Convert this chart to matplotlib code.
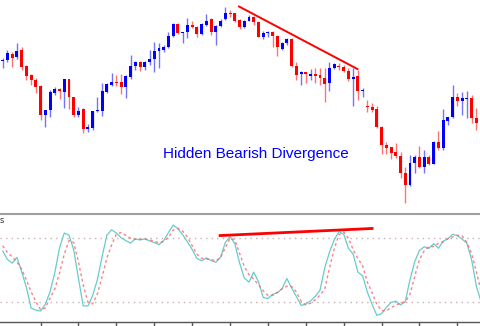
import matplotlib
matplotlib.use("Agg")
import matplotlib.pyplot as plt
import numpy as np

# candle prices (arbitrary units)
opens = [139, 140, 146, 143, 150, 134, 125, 120, 114, 85,
         90, 107, 111, 108, 121, 103, 85, 91, 71, 72,
         89, 89, 108, 115, 118, 118, 113, 123, 134, 138,
         133, 138, 141, 149, 150, 153, 164, 176, 167, 168,
         175, 173, 166, 175, 181, 168, 174, 181, 187, 187,
         180, 173, 179, 183, 178, 163, 167, 168, 164, 151,
         157, 161, 134, 126, 128, 124, 126, 125, 122, 117,
         132, 134, 133, 129, 121, 124, 109, 94, 93, 91,
         73, 55, 53, 48, 44, 27, 15, 37, 43, 33,
         43, 36, 58, 52, 79, 83, 103, 99, 101, 102,
         82, 78]
highs = [142, 150, 148, 157, 153, 135, 126, 122, 115, 90,
         110, 113, 112, 121, 121, 103, 93, 92, 76, 89,
         103, 117, 117, 127, 125, 126, 125, 145, 139, 139,
         139, 150, 158, 157, 155, 168, 177, 177, 168, 182,
         179, 174, 177, 186, 182, 175, 181, 193, 190, 187,
         181, 180, 185, 184, 179, 169, 169, 169, 165, 158,
         162, 162, 138, 129, 128, 131, 132, 132, 132, 138,
         137, 137, 135, 132, 132, 130, 112, 100, 97, 94,
         74, 58, 53, 57, 48, 33, 45, 45, 54, 50,
         45, 59, 69, 91, 83, 115, 107, 108, 109, 105,
         92, 87]
lows = [132, 138, 133, 141, 130, 120, 115, 107, 80, 73,
        83, 105, 101, 92, 91, 83, 83, 67, 68, 70,
        88, 84, 107, 114, 114, 106, 102, 121, 130, 129,
        130, 135, 128, 132, 148, 152, 163, 166, 157, 162,
        172, 163, 165, 174, 165, 155, 173, 180, 183, 178,
        171, 172, 179, 175, 163, 161, 163, 153, 144, 150,
        155, 133, 120, 115, 117, 120, 117, 115, 98, 109,
        131, 130, 128, 119, 94, 100, 103, 88, 88, 72,
        46, 46, 41, 42, 22, -3, 14, 27, 32, 27,
        35, 36, 50, 50, 75, 82, 94, 85, 82, 77,
        70, 76]
closes = [140, 147, 142, 149, 133, 124, 120, 113, 85, 90,
          108, 111, 109, 121, 103, 85, 89, 71, 73, 89,
          90, 109, 116, 118, 117, 113, 124, 134, 138, 133,
          138, 141, 149, 152, 153, 164, 176, 167, 168, 175,
          173, 166, 176, 179, 168, 174, 179, 187, 186, 179,
          173, 179, 183, 178, 163, 167, 168, 164, 153, 157,
          161, 134, 125, 128, 126, 126, 124, 122, 116, 132,
          136, 133, 129, 121, 123, 109, 110, 93, 90, 73,
          55, 52, 47, 44, 27, 15, 37, 43, 33, 43,
          36, 58, 52, 80, 83, 103, 99, 102, 102, 82,
          77, 85]

# stochastic oscillator
stoch_main = [68, 60, 56.5, 62, 48.5, 33.5, 14, 12, 11.2, 17.5,
              29.5, 47.5, 71, 85, 83, 69, 42, 16, 16, 26,
              41, 63, 83, 88, 85, 80.5, 77.8, 75.5, 79.5, 78.4,
              79.5, 77.5, 76, 74, 78, 85.5, 92.5, 89, 83.5, 76.5,
              69.5, 61, 58.7, 61.5, 59, 57.3, 62, 76, 81.6, 75,
              57, 42.5, 38.5, 48, 39, 24, 23, 27, 28.5, 32.5,
              42, 33, 25, 16.5, 17.8, 20.8, 25, 31, 52, 67,
              78.5, 86.3, 84, 70.5, 65, 48, 44.5, 29, 17.5, 7,
              8.7, 14.5, 19.3, 20.5, 17, 20, 41, 58, 68.5, 72,
              70.5, 75, 70.6, 77.2, 79.5, 83.8, 82.5, 79.3, 75.3, 60,
              35, 20]
stoch_signal = [73, 66.5, 62.5, 57.5, 51, 40.5, 29.5, 20, 12.5, 14,
                23.5, 32, 47, 65, 78, 76, 57.5, 36, 19.5, 18,
                27.5, 43.8, 61.5, 73.7, 84, 85.5, 82.7, 80, 79, 79,
                79.3, 78.5, 77.3, 75.7, 77, 81, 87.8, 89.4, 86.8, 81.2,
                73, 65, 61, 60.4, 60, 58.6, 61.9, 71, 80, 78.5,
                66, 53.5, 45.5, 41.4, 36, 30.4, 26, 25.9, 28.8, 32.2,
                34.8, 34.4, 29.3, 20.6, 17, 18.6, 21.8, 26.2, 32, 52,
                70, 83.5, 86, 80, 69.2, 60.7, 54, 38.5, 28.5, 17.5,
                11.6, 11.3, 14.3, 17, 18.5, 20, 27, 44, 60, 68,
                72, 72.3, 75.2, 76.7, 79.7, 81.3, 82.9, 82.3, 76.3, 65.7,
                48.5, 30]

# divergence trendlines (bar index, value)
price_line_x = [49.9, 74.9]
price_line_y = [193.5, 131]
osc_line_x = [45.9, 78.0]
osc_line_y = [82.6, 89.3]

W, H = 481, 326
fig = plt.figure(figsize=(W / 100, H / 100), dpi=100)
fig.patch.set_facecolor('white')

idx = np.arange(len(opens))
o = np.array(opens, float)
c = np.array(closes, float)
hi = np.array(highs, float)
lo = np.array(lows, float)
xlim = (-0.57, 100.99)

# ---- price panel ----
ax = fig.add_axes([0, 1 - 212 / H, 1, 212 / H])
colors = np.where(c >= o, '#0000ff', '#ff0000')
ax.vlines(idx, lo, hi, colors=colors, linewidth=1.0, alpha=0.55)
body_bot = np.minimum(o, c)
body_h = np.maximum(np.abs(c - o), 1.0)
ax.bar(idx, body_h, bottom=body_bot, width=0.62, color=colors, linewidth=0)
ax.plot(price_line_x, price_line_y, color='#ff0000', linewidth=1.4)
ax.set_xlim(*xlim)
ax.set_ylim(-12, 200)
ax.axis('off')

fig.text(255.5 / W, 1 - 158 / H, 'Hidden Bearish Divergence', color='#0000ff',
         fontsize=11, family='Liberation Sans', ha='center', va='baseline')

# ---- oscillator panel ----
ax2 = fig.add_axes([0, 1 - 322 / H, 1, (322 - 214) / H])
ax2.axhline(80, color='#c8b0b0', linestyle=(0, (1, 3)), linewidth=1)
ax2.axhline(20, color='#c8b0b0', linestyle=(0, (1, 3)), linewidth=1)
ax2.plot(idx, stoch_main, color='#66cccc', linewidth=0.9)
ax2.plot(idx, stoch_signal, color='#ff6060', linewidth=1.0, linestyle=(0, (2, 2)), alpha=0.8)
ax2.plot(osc_line_x, osc_line_y, color='#ff0000', linewidth=2)
ax2.set_xlim(*xlim)
ax2.set_ylim(0.8, 103)
for s in ['left', 'right']:
    ax2.spines[s].set_visible(False)
ax2.spines['top'].set_color('#a0a0a0')
ax2.spines['top'].set_linewidth(1.5)
ax2.spines['bottom'].set_color('#555555')
ax2.spines['bottom'].set_linewidth(1)
ax2.set_xticks(np.arange(8, 101, 8))
ax2.set_xticklabels([])
ax2.set_yticks([])
ax2.tick_params(axis='x', direction='out', length=3, color='#555555', width=1)
ax2.set_facecolor('none')

fig.text(0, 1 - 223 / H, 's', fontsize=6, color='#333333', ha='left', va='baseline')

fig.savefig('out.png', dpi=100)
